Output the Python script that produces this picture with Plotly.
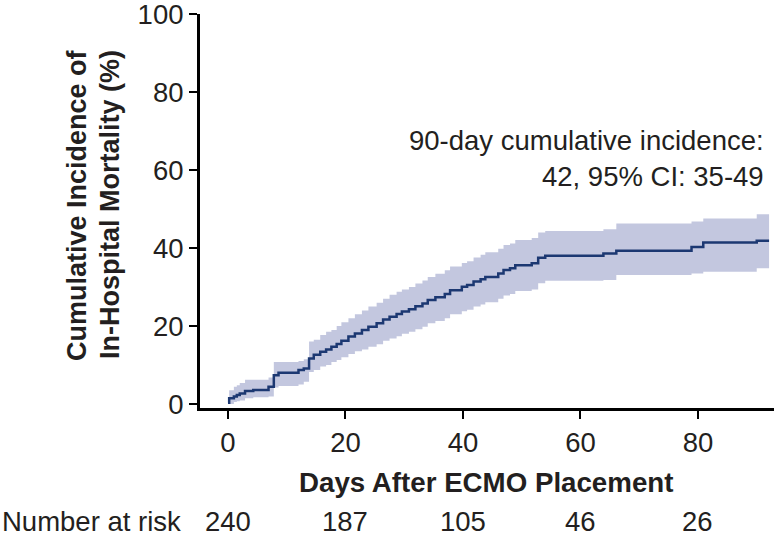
import plotly.graph_objects as go

# Step times (days) and cumulative incidence (%) with 95% CI
days = [0, 0.2, 1.0, 1.5, 2.0, 2.9, 4.3, 6.9, 7.8, 8.6, 12.0, 12.9, 13.8, 14.6, 15.7,
        16.7, 17.6, 18.5, 19.3, 20.5, 21.6, 22.8, 23.9, 25.3, 26.4, 27.5, 28.7, 29.6,
        30.8, 31.9, 33.1, 34.0, 35.3, 36.9, 37.8, 39.8, 40.7, 41.8, 43.0, 43.8, 46.0,
        46.9, 48.0, 48.9, 51.7, 52.8, 54.0, 63.9, 66.1, 78.9, 80.9, 90.0, 92.1]
cum_inc = [0.3, 1.5, 1.9, 2.3, 2.7, 3.3, 3.6, 4.4, 7.4, 8.0, 8.7, 9.1, 11.7, 12.6, 13.4,
           14.0, 14.7, 15.4, 16.2, 17.3, 18.1, 19.0, 19.8, 20.7, 21.7, 22.4, 23.1, 23.7,
           24.3, 25.1, 25.8, 26.7, 27.4, 28.2, 29.2, 30.1, 30.5, 31.4, 32.0, 32.6, 33.5,
           34.4, 34.8, 35.6, 36.1, 37.5, 38.0, 38.6, 39.3, 40.3, 41.4, 41.9, 41.9]
ci_lower = [0.0, 0.0, 0.5, 0.7, 0.9, 1.5, 1.7, 1.9, 4.2, 4.6, 5.0, 5.7, 8.2, 8.7, 9.6,
            10.0, 10.8, 11.3, 12.0, 12.8, 13.5, 14.0, 14.7, 15.3, 16.2, 16.8, 17.4, 18.0,
            18.5, 19.2, 19.8, 20.7, 21.3, 22.0, 23.0, 23.8, 24.2, 25.0, 25.5, 26.1, 27.0,
            27.8, 28.2, 29.0, 29.4, 31.0, 31.6, 31.8, 33.1, 33.5, 33.9, 34.8, 34.8]
ci_upper = [1.5, 3.5, 4.4, 4.8, 5.4, 6.2, 6.2, 6.8, 10.8, 10.8, 11.0, 11.5, 16.0, 16.5, 17.7,
            18.5, 19.0, 20.0, 21.0, 22.0, 23.0, 24.0, 25.0, 26.0, 27.0, 28.0, 28.8, 29.4,
            30.0, 30.9, 31.7, 32.6, 33.4, 34.3, 35.3, 36.2, 36.6, 37.6, 38.3, 38.9, 39.8,
            40.8, 41.2, 42.1, 42.6, 44.0, 44.4, 44.8, 46.3, 46.8, 47.6, 48.7, 48.7]

x_ticks = [0, 20, 40, 60, 80]
y_ticks = [0, 20, 40, 60, 80, 100]
at_risk = [240, 187, 105, 46, 26]

FONT = "Liberation Sans, Arial, Helvetica, sans-serif"
TXT = "#231f20"
LINE = "#1c3872"
BAND = "#c3c7df"
FS = 27.5

fig = go.Figure()
fig.add_trace(go.Scatter(x=days, y=ci_lower, mode="lines", line=dict(width=0, shape="hv"),
                         showlegend=False, hoverinfo="skip"))
fig.add_trace(go.Scatter(x=days, y=ci_upper, mode="lines", line=dict(width=0, shape="hv"),
                         fill="tonexty", fillcolor=BAND, showlegend=False, hoverinfo="skip"))
fig.add_trace(go.Scatter(x=days, y=cum_inc, mode="lines",
                         line=dict(color=LINE, width=2.5, shape="hv"), showlegend=False))

fig.update_xaxes(range=[-4.766, 92.94], tickvals=x_ticks, ticks="outside", ticklen=8,
                 tickwidth=2, tickcolor="black", showline=True, linecolor="black",
                 linewidth=3, showgrid=False, zeroline=False, ticklabeloverflow="allow",
                 tickfont=dict(family=FONT, size=FS, color=TXT))
fig.update_yaxes(range=[-1.03, 100.05], tickvals=y_ticks, ticks="outside", ticklen=8,
                 tickwidth=2, tickcolor="black", showline=True, linecolor="black",
                 linewidth=3, showgrid=False, zeroline=False, ticklabeloverflow="allow",
                 tickfont=dict(family=FONT, size=FS, color=TXT))

annotations = [
    dict(text="<b>Cumulative Incidence of</b>",
         xref="paper", yref="paper", x=(77 - 200) / 574, y=(408 - 205) / 394, textangle=-90,
         showarrow=False, font=dict(family=FONT, size=27, color=TXT),
         xanchor="center", yanchor="middle"),
    dict(text="<b>In-Hospital Mortality (%)</b>",
         xref="paper", yref="paper", x=(110 - 200) / 574, y=(408 - 205) / 394, textangle=-90,
         showarrow=False, font=dict(family=FONT, size=27, color=TXT),
         xanchor="center", yanchor="middle"),
    dict(text="<b>Days After ECMO Placement</b>", xref="paper", yref="paper",
         x=(485.5 - 200) / 574, y=(408 - 482) / 394, showarrow=False,
         font=dict(family=FONT, size=27.7, color=TXT), xanchor="center", yanchor="middle"),
    dict(text="90-day cumulative incidence:<br>42, 95% CI: 35-49", xref="paper", yref="paper",
         x=(766 - 200) / 574, y=(408 - 158) / 394, showarrow=False, align="right",
         font=dict(family=FONT, size=FS, color=TXT), xanchor="right", yanchor="middle"),
    dict(text="Number at risk", xref="paper", yref="paper", x=-200 / 574,
         y=(408 - 521) / 394, showarrow=False, xanchor="left", yanchor="middle",
         font=dict(family=FONT, size=FS, color=TXT)),
]
for xv, n in zip(x_ticks, at_risk):
    annotations.append(dict(text=str(n), xref="x", yref="paper", x=xv,
                            y=(408 - 521) / 394, showarrow=False, xanchor="center",
                            yanchor="middle", font=dict(family=FONT, size=FS, color=TXT)))

fig.update_layout(width=774, height=538, margin=dict(l=200, r=0, t=14, b=130),
                  plot_bgcolor="white", paper_bgcolor="white", annotations=annotations)

fig.write_html("out.html", config={"displayModeBar": False},
               post_script="document.body.style.margin='0';document.body.style.overflow='hidden';")
